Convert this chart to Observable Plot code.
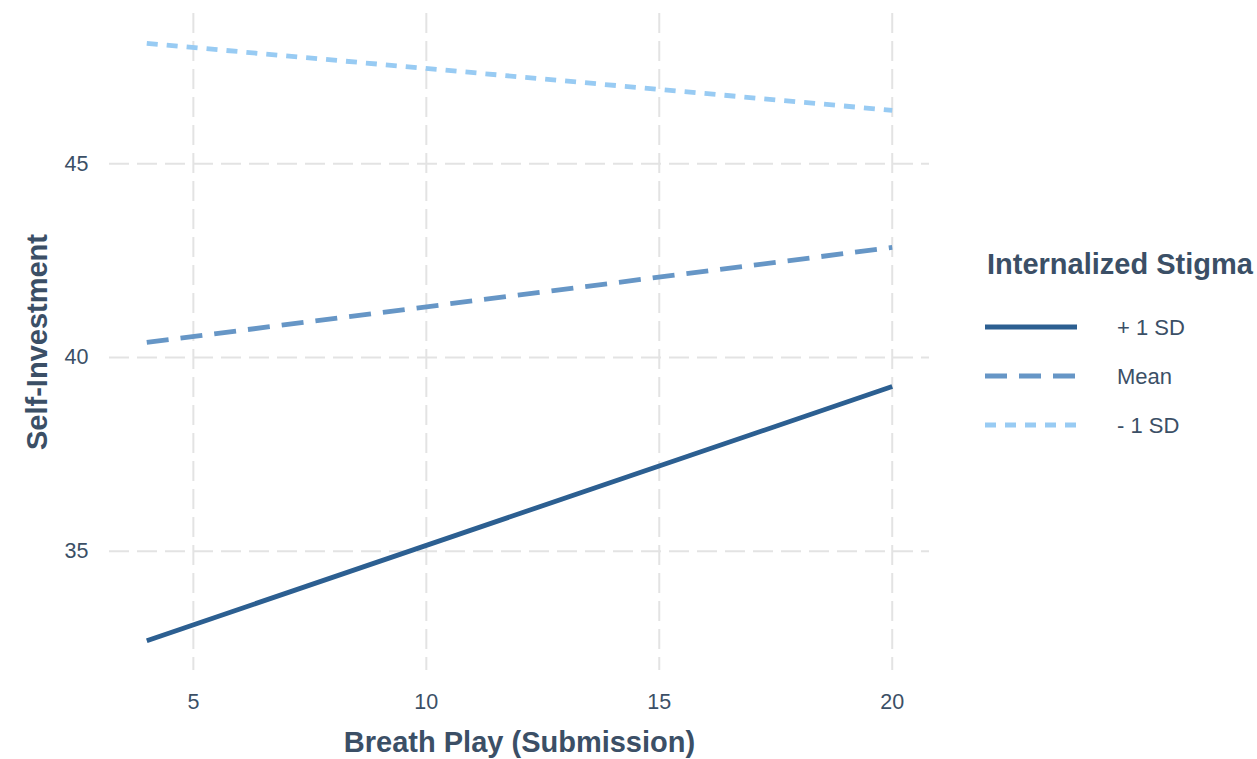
<!DOCTYPE html>
<html><head><meta charset="utf-8">
<script src="https://cdn.jsdelivr.net/npm/d3@7"></script>
<script src="https://cdn.jsdelivr.net/npm/@observablehq/plot@0.6"></script>
<style>
html,body{margin:0;padding:0;background:#fff;}
svg{display:block;}
</style>
</head><body>
<div id="chart"></div>
<script>
const xValues = [4, 20];
const groups = ["+ 1 SD", "Mean", "- 1 SD"];
const plusSD = [32.69, 39.25];
const meanVals = [40.39, 42.84];
const minusSD = [48.11, 46.38];
const xTicks = [5, 10, 15, 20];
const yTicks = [35, 40, 45];
const colors = ["#2c5f91", "#6696c6", "#98cbf3"];
const dashes = ["none", "22,12", "11,9"];

const series = [plusSD, meanVals, minusSD];
const data = [];
groups.forEach((g, i) => xValues.forEach((x, j) => data.push({group: g, x, y: series[i][j]})));

const textColor = "#3b4f66";
const gridColor = "#e3e3e3";
const font = "'Liberation Sans', Arial, Helvetica, sans-serif";

const plot = Plot.plot({
  width: 1257, height: 759,
  marginLeft: 109, marginRight: 328, marginTop: 13, marginBottom: 89,
  style: {fontFamily: font, background: "#fff", fontSize: "21.5px"},
  x: {domain: [3.2, 20.8], axis: null},
  y: {domain: [31.92, 48.88], axis: null},
  color: {domain: groups, range: colors},
  marks: [
    Plot.ruleX(xTicks, {stroke: gridColor, strokeWidth: 2, strokeDasharray: "20,8"}),
    Plot.ruleY(yTicks, {stroke: gridColor, strokeWidth: 2, strokeDasharray: "20,8"}),
    ...groups.map((g, i) => Plot.line(data.filter(d => d.group === g), {
      x: "x", y: "y", stroke: colors[i], strokeWidth: 4.8, strokeDasharray: dashes[i], strokeLinecap: "butt"
    })),
    Plot.axisX(xTicks, {tickSize: 0, tickPadding: 23, fontSize: 21.5, fill: textColor, color: textColor, label: null}),
    Plot.axisY(yTicks, {tickSize: 0, tickPadding: 21, fontSize: 21.5, fill: textColor, color: textColor, label: null}),
    Plot.text(["Breath Play (Submission)"], {frameAnchor: "bottom", dy: 81, fontSize: 29, fontWeight: "bold", fill: textColor}),
    Plot.text(["Self-Investment"], {frameAnchor: "left", textAnchor: "middle", dx: -72, rotate: -90, fontSize: 29, fontWeight: "bold", fill: textColor})
  ]
});
document.getElementById("chart").appendChild(plot);

// Legend
const svg = d3.select(plot);
const lg = svg.append("g").attr("font-family", font).attr("text-anchor", "start");
lg.append("text").attr("x", 987).attr("y", 274).attr("font-size", 29).attr("font-weight", "bold")
  .attr("fill", textColor).text("Internalized Stigma");
const legendY = [327, 376, 425];
groups.forEach((g, i) => {
  lg.append("line").attr("x1", 985).attr("x2", 1077).attr("y1", legendY[i]).attr("y2", legendY[i])
    .attr("stroke", colors[i]).attr("stroke-width", 4.8).attr("stroke-dasharray", dashes[i] === "none" ? null : dashes[i]);
  lg.append("text").attr("x", 1117).attr("y", legendY[i]).attr("dy", "0.35em").attr("font-size", 22)
    .attr("fill", textColor).text(g);
});
</script>
</body></html>
